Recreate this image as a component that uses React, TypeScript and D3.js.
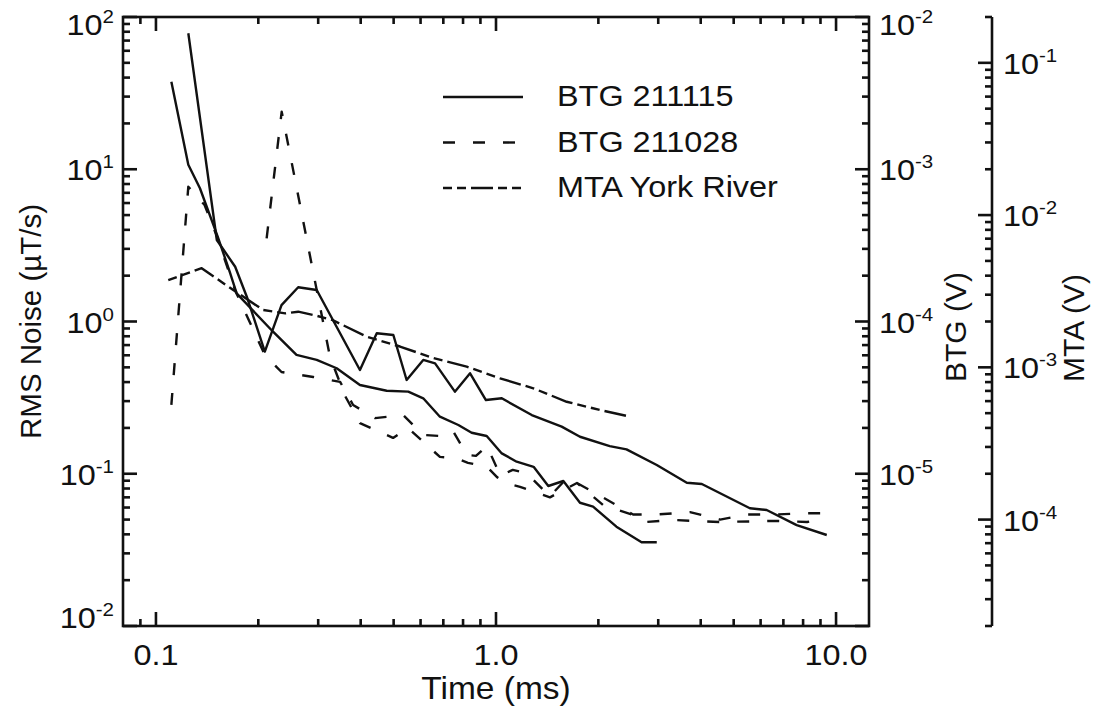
import React, { useRef, useEffect } from "react";
import * as d3 from "d3";

// BTG 211115, first record (starts high, zig-zag, runs to ~9.4 ms), RMS noise in uT/s
const time211115a = [0.1245, 0.151, 0.171, 0.185, 0.209, 0.234, 0.262, 0.297, 0.398, 0.446, 0.499, 0.546, 0.611, 0.662, 0.757, 0.839, 0.934, 1.04, 1.274, 1.56, 1.766, 2.16, 2.42, 2.97, 3.64, 4.03, 5.58, 6.25, 7.66, 9.39];
const noise211115a = [78.2, 3.43, 2.29, 1.455, 0.634, 1.28, 1.68, 1.61, 0.48, 0.837, 0.815, 0.413, 0.559, 0.531, 0.346, 0.457, 0.305, 0.313, 0.243, 0.204, 0.175, 0.152, 0.1446, 0.1142, 0.0873, 0.0857, 0.0593, 0.0578, 0.046, 0.0396];

// BTG 211115, second record (smooth, ends at ~3 ms)
const time211115b = [0.111, 0.1245, 0.1347, 0.152, 0.165, 0.1727, 0.221, 0.259, 0.297, 0.34, 0.398, 0.477, 0.552, 0.611, 0.684, 0.775, 0.848, 0.939, 1.04, 1.15, 1.29, 1.425, 1.578, 1.766, 1.93, 2.26, 2.68, 2.97];
const noise211115b = [37.6, 10.7, 7.5, 3.6, 2.1, 1.53, 0.857, 0.603, 0.559, 0.493, 0.383, 0.351, 0.346, 0.313, 0.237, 0.209, 0.186, 0.177, 0.136, 0.12, 0.111, 0.0831, 0.0896, 0.0645, 0.0608, 0.0449, 0.0355, 0.0355];

// BTG 211028, first record
const time211028a = [0.111, 0.1245, 0.139, 0.151, 0.171, 0.209, 0.234, 0.29, 0.348, 0.38, 0.441, 0.533, 0.61, 0.684, 0.747, 0.822, 0.873, 0.941, 1.03, 1.12, 1.23, 1.44, 1.62, 1.73, 2.06, 2.53, 2.98, 3.72, 4.56, 5.47, 6.62, 8.22, 9.35];
const noise211028a = [0.283, 7.68, 5.82, 3.64, 1.6, 0.603, 0.466, 0.432, 0.401, 0.283, 0.232, 0.243, 0.18, 0.177, 0.191, 0.133, 0.131, 0.152, 0.097, 0.106, 0.101, 0.071, 0.094, 0.087, 0.07, 0.054, 0.054, 0.056, 0.05, 0.054, 0.054, 0.055, 0.055];

// BTG 211028, second record (spike at 0.23 ms)
const time211028b = [0.2116, 0.2343, 0.297, 0.325, 0.36, 0.398, 0.498, 0.551, 0.684, 0.7575, 0.827, 0.941, 1.007, 1.085, 1.177, 1.441, 1.73, 2.064, 2.529, 2.743, 3.316, 4.559, 6.617, 8.218, 9.346];
const noise211028b = [3.52, 23.9, 1.61, 0.585, 0.324, 0.215, 0.172, 0.2, 0.129, 0.127, 0.118, 0.111, 0.095, 0.086, 0.082, 0.07, 0.087, 0.0623, 0.0536, 0.0482, 0.0497, 0.0482, 0.049, 0.0482, 0.0512];

// MTA York River, in volts (MTA axis)
const timeMta = [0.1087, 0.1363, 0.1688, 0.2067, 0.24, 0.262, 0.297, 0.331, 0.417, 0.522, 0.654, 0.82, 1.028, 1.288, 1.614, 2.023, 2.479];
const voltsMta = [0.00374, 0.00448, 0.00322, 0.00238, 0.00226, 0.00232, 0.00218, 0.00204, 0.00159, 0.00137, 0.00115, 0.00101, 0.000847, 0.000728, 0.000594, 0.000524, 0.000474];

const legendLabels = ["BTG 211115", "BTG 211028", "MTA York River"];
const xTickLabels = ["0.1", "1.0", "10.0"];
const xTickValues = [0.1, 1, 10];
const leftExponents = [2, 1, 0, -1, -2];
const btgExponents = [-2, -3, -4, -5];
const mtaExponents = [-1, -2, -3, -4];

const DASHED = "12,18";
const DASHDOT = "9,5,9,5,22,5";

const App = () => {
  const container = useRef(null);

  const width = 1096;
  const height = 711;
  const left = 123;
  const right = 869;
  const top = 17;
  const bottom = 626;
  const mtaX = 992;
  const font = "'Liberation Sans', Arial, Helvetica, sans-serif";
  const sx = 1.08; // the original figure is a little wider than tall

  useEffect(() => {
    const svg = d3.select(container.current);
    svg.selectAll("*").remove();

    const x = d3.scaleLog().domain([0.08, 12.5]).range([left, right]);
    const y = d3.scaleLog().domain([0.01, 100]).range([bottom, top]);
    const yBtg = d3.scaleLog().domain([1e-6, 1e-2]).range([bottom, top]);
    const yMta = d3.scaleLog().domain([2e-5, 0.2]).range([bottom, top]);

    const isMajor = (v) =>
      Math.abs(Math.log10(v) - Math.round(Math.log10(v))) < 1e-6;
    const tickLen = (v) => (isMajor(v) ? 14 : 7);

    const axes = svg
      .append("g")
      .attr("fill", "none")
      .attr("stroke", "#111")
      .attr("stroke-width", 2.6);

    // plot frame
    axes
      .append("rect")
      .attr("x", left)
      .attr("y", top)
      .attr("width", right - left)
      .attr("height", bottom - top);

    // x ticks, top and bottom
    x.ticks().forEach((t) => {
      const px = x(t);
      if (px <= left + 1) return;
      axes.append("line").attr("x1", px).attr("x2", px).attr("y1", bottom).attr("y2", bottom - tickLen(t));
      axes.append("line").attr("x1", px).attr("x2", px).attr("y1", top).attr("y2", top + tickLen(t));
    });

    // left axis ticks
    y.ticks().forEach((t) => {
      const py = y(t);
      axes.append("line").attr("x1", left).attr("x2", left + tickLen(t)).attr("y1", py).attr("y2", py);
    });

    // BTG axis ticks (right frame)
    yBtg.ticks().forEach((t) => {
      const py = yBtg(t);
      axes.append("line").attr("x1", right).attr("x2", right - tickLen(t)).attr("y1", py).attr("y2", py);
    });

    // MTA axis
    axes.append("line").attr("x1", mtaX).attr("x2", mtaX).attr("y1", top).attr("y2", bottom);
    yMta.ticks().forEach((t) => {
      const py = yMta(t);
      axes.append("line").attr("x1", mtaX).attr("x2", mtaX - tickLen(t)).attr("y1", py).attr("y2", py);
    });

    const labels = svg
      .append("g")
      .attr("fill", "#111")
      .style("font-family", font)
      .style("font-size", "30px");

    const addText = (px, py, anchor, rotate = 0) =>
      labels
        .append("text")
        .attr(
          "transform",
          `translate(${px},${py}) rotate(${rotate}) scale(${sx},1)`
        )
        .attr("text-anchor", anchor);

    const powerLabel = (px, py, exp, anchor) => {
      const cy = Math.min(Math.max(py, top + 7), bottom - 9);
      const t = addText(px, cy + 11, anchor);
      t.append("tspan").text("10");
      t.append("tspan").attr("dy", -12).style("font-size", "19px").text(String(exp));
    };

    leftExponents.forEach((e) => powerLabel(114, y(Math.pow(10, e)), e, "end"));
    btgExponents.forEach((e) => powerLabel(879, yBtg(Math.pow(10, e)), e, "start"));
    mtaExponents.forEach((e) => powerLabel(1003, yMta(Math.pow(10, e)), e, "start"));

    xTickValues.forEach((v, i) => {
      addText(x(v), 665, "middle").text(xTickLabels[i]);
    });

    // axis titles
    addText((left + right) / 2, 699, "middle")
      .style("font-size", "31px")
      .text("Time (ms)");
    labels
      .append("text")
      .attr("transform", `translate(41, ${(top + bottom) / 2}) rotate(-90)`)
      .attr("text-anchor", "middle")
      .style("font-size", "29.5px")
      .text("RMS Noise (\u00b5T/s)");
    labels
      .append("text")
      .attr("transform", "translate(966, 327) rotate(-90)")
      .attr("text-anchor", "middle")
      .text("BTG (V)");
    labels
      .append("text")
      .attr("transform", "translate(1084, 328) rotate(-90)")
      .attr("text-anchor", "middle")
      .text("MTA (V)");

    // data lines
    const lineLeft = d3.line().x((d) => x(d[0])).y((d) => y(d[1]));
    const lineMta = d3.line().x((d) => x(d[0])).y((d) => yMta(d[1]));

    const series = [
      { t: time211115a, v: noise211115a, dash: null, gen: lineLeft },
      { t: time211115b, v: noise211115b, dash: null, gen: lineLeft },
      { t: time211028a, v: noise211028a, dash: DASHED, gen: lineLeft },
      { t: time211028b, v: noise211028b, dash: DASHED, gen: lineLeft },
      { t: timeMta, v: voltsMta, dash: DASHDOT, gen: lineMta },
    ];

    const plot = svg
      .append("g")
      .attr("fill", "none")
      .attr("stroke", "#111")
      .attr("stroke-width", 2.4)
      .attr("stroke-linejoin", "round");

    series.forEach((s) => {
      plot
        .append("path")
        .attr("d", s.gen(s.t.map((t, i) => [t, s.v[i]])))
        .attr("stroke-dasharray", s.dash);
    });

    // legend
    const dashes = [null, DASHED, DASHDOT];
    legendLabels.forEach((name, i) => {
      const ly = 97 + i * 45.5;
      plot
        .append("line")
        .attr("x1", 443)
        .attr("x2", 523)
        .attr("y1", ly)
        .attr("y2", ly)
        .attr("stroke-dasharray", dashes[i]);
      addText(557, ly + 9, "start").text(name);
    });
  }, []);

  return (
    <svg
      ref={container}
      width={width}
      height={height}
      style={{ position: "absolute", left: 0, top: 0, background: "#fff" }}
    />
  );
};

export default App;
